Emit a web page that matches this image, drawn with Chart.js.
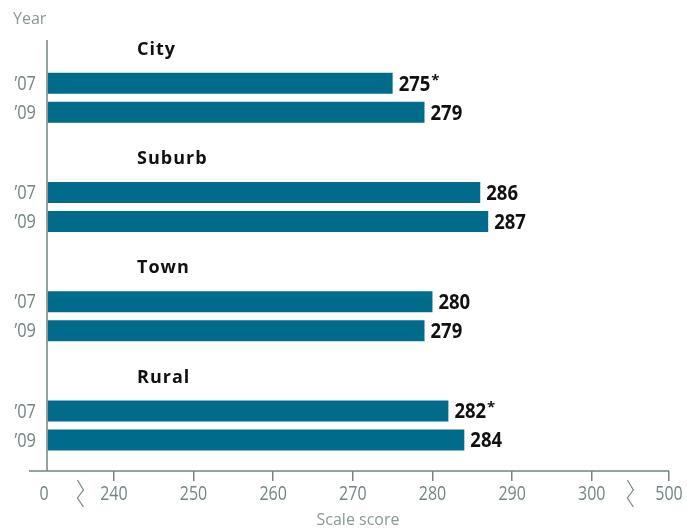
<!DOCTYPE html>
<html>
<head>
<meta charset="utf-8">
<script src="https://cdn.jsdelivr.net/npm/chart.js@4"></script>
<style>
  html, body { margin: 0; padding: 0; background: #fff; }
  #wrap { width: 687px; height: 529px; }
</style>
</head>
<body>
<div id="wrap"><canvas id="chart"></canvas></div>
<script>
const groups = ['City', 'Suburb', 'Town', 'Rural'];
const yearLabels = ['\u201907', '\u201909'];
const scores07 = [275, 286, 280, 282];
const scores09 = [279, 287, 279, 284];
const signif07 = [true, false, false, true];
const signif09 = [false, false, false, false];
const tickValues = [0, 240, 250, 260, 270, 280, 290, 300, 500];

// broken axis: 0 and 500 sit just outside the 240-300 window
const AXIS_MIN = 231.6;
const AXIS_MAX = 309.7;
function toAxis(v) {
  if (v <= 0) return AXIS_MIN;
  if (v >= 500) return AXIS_MAX;
  return v;
}

const GREY = '#748484';
const BAR = '#006b8a';
const FONT = "'Open Sans', sans-serif";

function rows(values) {
  return values.map((v, i) => ({ x: toAxis(v), y: i, score: v }));
}

// no condensed face available, so squeeze the text horizontally
function narrowText(ctx, text, x, y, sx) {
  ctx.save();
  ctx.translate(x, y);
  ctx.scale(sx, 1);
  ctx.fillText(text, 0, 0);
  const w = ctx.measureText(text).width * sx;
  ctx.restore();
  return w;
}

const decorations = {
  id: 'decorations',
  afterDatasetsDraw(chart) {
    const { ctx, chartArea: { left, right, top, bottom }, scales: { x, y } } = chart;
    ctx.save();

    // axis lines
    ctx.strokeStyle = GREY;
    ctx.lineWidth = 1.5;
    ctx.beginPath();
    ctx.moveTo(left, top);
    ctx.lineTo(left, bottom);
    ctx.moveTo(left - 18, bottom);
    ctx.lineTo(right, bottom);
    ctx.stroke();

    // axis breaks
    ctx.lineWidth = 1.2;
    [[0, 240], [300, 500]].forEach(([a, b]) => {
      const mx = (x.getPixelForValue(toAxis(a)) + x.getPixelForValue(toAxis(b))) / 2;
      ctx.beginPath();
      ctx.moveTo(mx - 3, bottom + 9);
      ctx.lineTo(mx + 3, bottom + 19);
      ctx.lineTo(mx - 3, bottom + 27);
      ctx.lineTo(mx + 3, bottom + 36);
      ctx.stroke();
    });

    ctx.textBaseline = 'middle';

    // x tick labels
    ctx.fillStyle = GREY;
    ctx.font = '20px ' + FONT;
    ctx.textAlign = 'center';
    tickValues.forEach(v => {
      const px = x.getPixelForValue(toAxis(v)) - (v === 0 ? 3 : 0);
      narrowText(ctx, String(v), px, bottom + 23, 0.8);
    });

    // group headers
    ctx.fillStyle = '#111';
    ctx.font = 'bold 18px ' + FONT;
    ctx.letterSpacing = '1px';
    ctx.textAlign = 'left';
    groups.forEach((g, i) => {
      ctx.fillText(g, left + 90, y.getPixelForValue(i) - 48);
    });
    ctx.letterSpacing = '0px';

    const sig = [signif07, signif09];
    chart.data.datasets.forEach((ds, di) => {
      const meta = chart.getDatasetMeta(di);
      meta.data.forEach((bar, i) => {
        // year label
        ctx.fillStyle = GREY;
        ctx.font = '20px ' + FONT;
        ctx.textAlign = 'right';
        narrowText(ctx, yearLabels[di], left - 11, bar.y + 1, 0.82);
        // value label
        const txt = String(ds.data[i].score);
        ctx.fillStyle = '#111';
        ctx.font = 'bold 22px ' + FONT;
        ctx.textAlign = 'left';
        const w = narrowText(ctx, txt, bar.x + 6, bar.y + 1, 0.84);
        if (sig[di][i]) {
          ctx.font = 'bold 15px ' + FONT;
          ctx.fillText('*', bar.x + 7 + w, bar.y - 3);
        }
      });
    });

    // axis titles
    ctx.fillStyle = '#8a9898';
    ctx.font = '16px ' + FONT;
    ctx.textAlign = 'left';
    ctx.fillText('Year', 13, 19);
    ctx.textAlign = 'center';
    ctx.fillText('Scale score', (left + right) / 2, 520);
    ctx.restore();
  }
};

const barStyle = {
  backgroundColor: BAR,
  borderWidth: 0,
  base: AXIS_MIN,
  categoryPercentage: 0.531,
  barPercentage: 0.724
};

new Chart(document.getElementById('chart'), {
  type: 'bar',
  plugins: [decorations],
  data: {
    datasets: [
      { label: yearLabels[0], data: rows(scores07), ...barStyle },
      { label: yearLabels[1], data: rows(scores09), ...barStyle }
    ]
  },
  options: {
    indexAxis: 'y',
    responsive: true,
    maintainAspectRatio: false,
    animation: false,
    layout: { padding: { left: 47, right: 18, top: 40, bottom: 0 } },
    scales: {
      x: {
        type: 'linear',
        min: AXIS_MIN,
        max: AXIS_MAX,
        afterBuildTicks(scale) {
          scale.ticks = tickValues.map(v => ({ value: toAxis(v) }));
        },
        afterFit(scale) { scale.height = 58; },
        border: { display: false },
        grid: {
          drawOnChartArea: false,
          drawTicks: true,
          tickLength: 10,
          lineWidth: 1.5,
          tickColor: ctx => (ctx.tick && ctx.tick.value === AXIS_MIN ? 'rgba(0,0,0,0)' : GREY)
        },
        ticks: {
          autoSkip: false,
          maxRotation: 0,
          padding: 0,
          color: 'rgba(0,0,0,0)',
          font: { family: FONT, size: 20 },
          callback(value, index) { return String(tickValues[index]); }
        }
      },
      y: {
        type: 'linear',
        display: false,
        reverse: true,
        offset: false,
        min: -0.529,
        max: 3.417,
        afterBuildTicks(scale) {
          scale.ticks = groups.map((g, i) => ({ value: i }));
        }
      }
    },
    plugins: {
      legend: { display: false },
      tooltip: { enabled: false }
    }
  }
});
</script>
</body>
</html>
